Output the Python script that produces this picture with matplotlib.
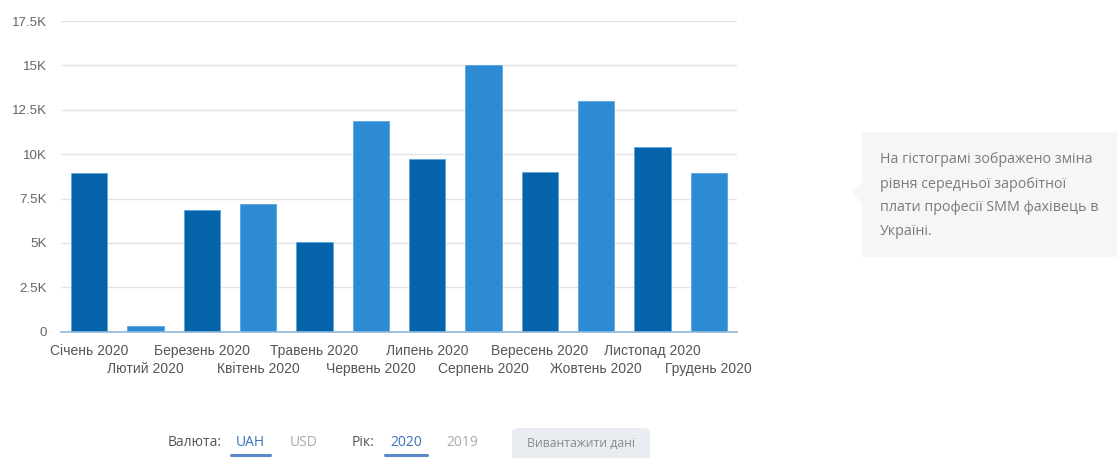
"""Average SMM specialist salary in Ukraine by month, 2020"""
import matplotlib
matplotlib.use("Agg")
import matplotlib.pyplot as plt
from matplotlib.patches import FancyBboxPatch, Polygon, Rectangle
from matplotlib.ticker import FuncFormatter

months = ["Січень 2020", "Лютий 2020", "Березень 2020", "Квітень 2020",
          "Травень 2020", "Червень 2020", "Липень 2020", "Серпень 2020",
          "Вересень 2020", "Жовтень 2020", "Листопад 2020", "Грудень 2020"]
salary_uah = [8920, 340, 6870, 7210, 5050, 11850,
              9710, 15000, 9010, 13010, 10400, 8960]
y_ticks = [0, 2500, 5000, 7500, 10000, 12500, 15000, 17500]

note_lines = ["На гістограмі зображено зміна",
              "рівня середньої заробітної",
              "плати професії SMM фахівець в",
              "Україні."]

DARK_BLUE = "#0563aa"
LIGHT_BLUE = "#2d8bd4"
GRID_COLOR = "#e3e3e3"
AXIS_COLOR = "#8fb8dc"
LABEL_COLOR = "#555555"
CHART_FONT = "Liberation Sans"
UI_FONT = "Open Sans"


def k_format(value, pos):
    if value == 0:
        return "0"
    return f"{value / 1000:g}K"


def draw_chart(fig):
    ax = fig.add_axes([0.0546, 0.2758, 0.6052, 0.6782])
    positions = list(range(len(months)))
    colors = [DARK_BLUE if i % 2 == 0 else LIGHT_BLUE for i in positions]
    ax.bar(positions, salary_uah, width=0.64, color=colors,
           edgecolor="#5aa6e0", linewidth=0.6, zorder=3)

    ax.set_xlim(-0.5, 11.5)
    ax.set_ylim(0, 17500)
    ax.set_yticks(y_ticks)
    ax.yaxis.set_major_formatter(FuncFormatter(k_format))
    ax.grid(axis="y", color=GRID_COLOR, linewidth=1.0, zorder=0)

    for side in ["top", "right", "left"]:
        ax.spines[side].set_visible(False)
    ax.spines["bottom"].set_color(AXIS_COLOR)
    ax.spines["bottom"].set_linewidth(1.2)
    ax.spines["bottom"].set_zorder(4)

    # month labels staggered over two rows
    ax.set_xticks(positions[0::2])
    ax.set_xticklabels(months[0::2])
    ax.set_xticks(positions[1::2], minor=True)
    ax.set_xticklabels(months[1::2], minor=True)
    ax.tick_params(axis="x", which="major", length=0, pad=9,
                   labelsize=10, labelcolor=LABEL_COLOR)
    ax.tick_params(axis="x", which="minor", length=0, pad=22,
                   labelsize=10, labelcolor=LABEL_COLOR)
    ax.tick_params(axis="y", length=0, pad=10, labelsize=9.6,
                   labelcolor="#666666")
    for label in ax.get_xticklabels(which="both") + ax.get_yticklabels():
        label.set_fontfamily(CHART_FONT)
    return ax


def draw_note(fig):
    W, H = 1117, 458
    box = Rectangle((862 / W, 1 - 257 / H), (W - 862) / W, 125 / H,
                    transform=fig.transFigure, facecolor="#f6f6f6",
                    edgecolor="none")
    fig.patches.append(box)
    arrow = Polygon([(862 / W, 1 - 183 / H), (852 / W, 1 - 193 / H),
                     (862 / W, 1 - 203 / H)], closed=True,
                    transform=fig.transFigure, facecolor="#f6f6f6",
                    edgecolor="none")
    fig.patches.append(arrow)
    for i, line in enumerate(note_lines):
        fig.text(880 / W, 1 - (160 + 24 * i) / H, line, fontsize=10.3,
                 family=UI_FONT, color="#7b7b7b", va="center", ha="left")


def draw_controls(fig):
    W, H = 1117, 458
    y = 1 - 443 / H
    items = [
        (168, "Валюта:", "#555555", False),
        (236, "UAH", "#3a72ba", True),
        (290, "USD", "#a9a9a9", False),
        (352, "Рік:", "#555555", False),
        (390, "2020", "#3a72ba", True),
        (446, "2019", "#a9a9a9", False),
    ]
    renderer = fig.canvas.get_renderer()
    for x, label, color, active in items:
        t = fig.text(x / W, y, label, fontsize=10, family=UI_FONT,
                     color=color, va="center", ha="left")
        if active:
            bb = t.get_window_extent(renderer).transformed(
                fig.transFigure.inverted())
            fig.add_artist(plt.Line2D([bb.x0 - 5 / W, bb.x1 + 5 / W],
                                      [1 - 455 / H, 1 - 455 / H],
                                      transform=fig.transFigure,
                                      color="#5a88c6", linewidth=2.2,
                                      solid_capstyle="round"))

    button = FancyBboxPatch((512 / W, 1 - 470 / H), 138 / W, 42 / H,
                            boxstyle="round,pad=0,rounding_size=0.008",
                            transform=fig.transFigure,
                            facecolor="#e9edf1", edgecolor="none")
    fig.patches.append(button)
    fig.text(581 / W, y, "Вивантажити дані", fontsize=8.8, family=UI_FONT,
             color="#8a8a8a", va="center", ha="center")


def main():
    fig = plt.figure(figsize=(11.17, 4.58), dpi=100)
    fig.patch.set_facecolor("white")
    draw_chart(fig)
    draw_note(fig)
    draw_controls(fig)
    fig.savefig("out.png", dpi=100)


if __name__ == "__main__":
    main()
